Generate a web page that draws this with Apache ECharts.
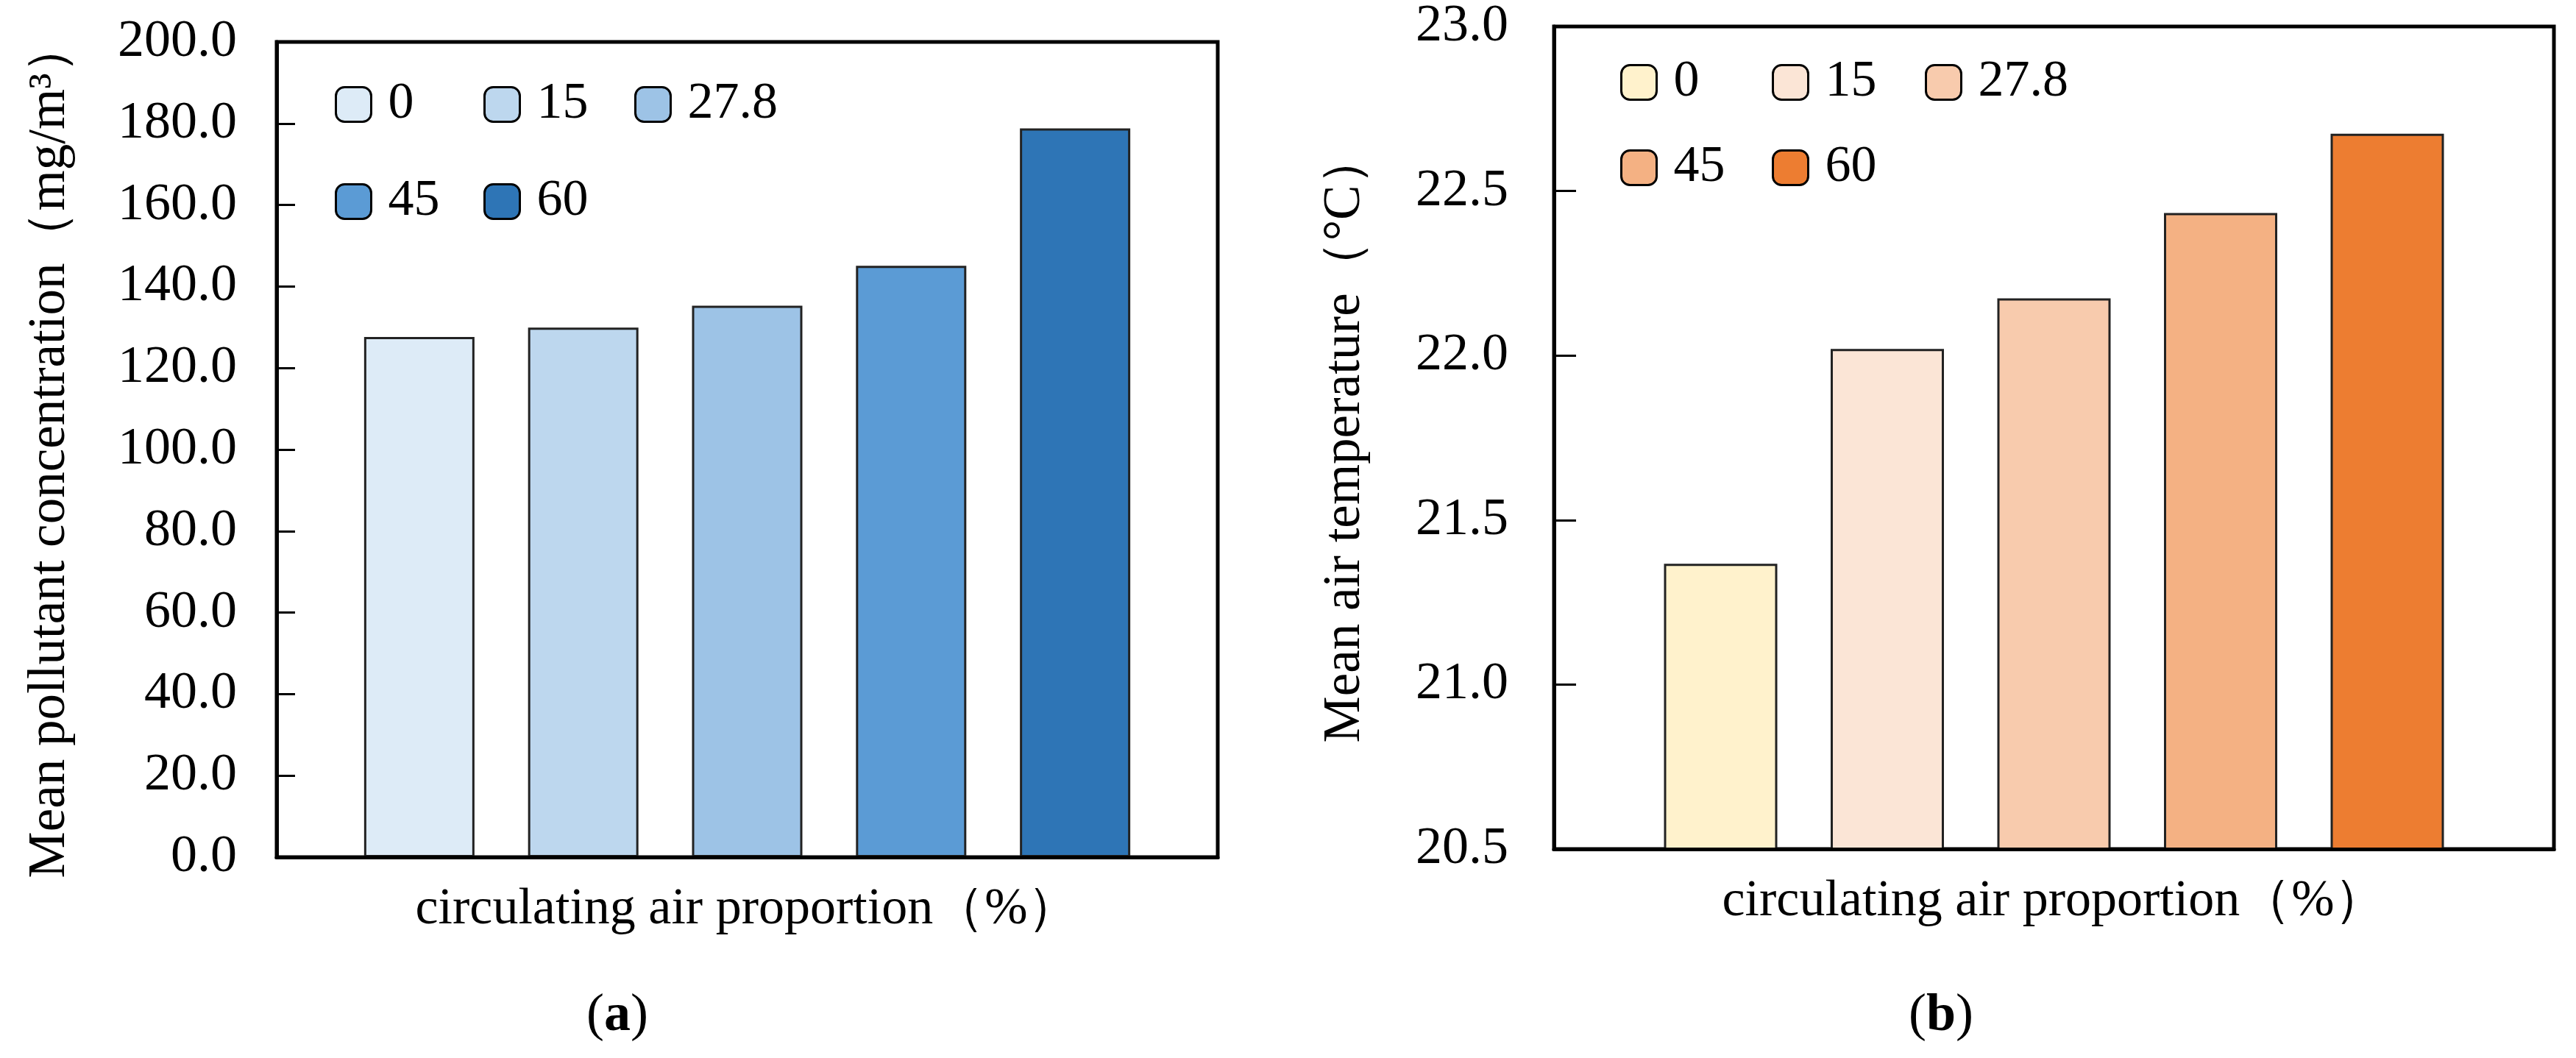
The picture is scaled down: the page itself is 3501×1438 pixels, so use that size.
<!DOCTYPE html>
<html><head><meta charset="utf-8">
<script src="https://cdn.jsdelivr.net/npm/echarts@6/dist/echarts.min.js"></script>
<style>html,body{margin:0;padding:0;background:#fff}#c{width:3501px;height:1438px}</style>
</head><body><div id="c"></div>
<script>
// ---- data ----
const categories = ['0', '15', '27.8', '45', '60'];
const pollutantValues = [127.6, 129.9, 135.3, 145.1, 178.8];
const temperatureValues = [21.367, 22.020, 22.174, 22.433, 22.674];
const blueColors = ['#DDEBF7', '#BDD7EE', '#9DC3E6', '#5B9BD5', '#2E75B6'];
const orangeColors = ['#FFF2CC', '#FBE5D6', '#F8CBAD', '#F4B183', '#ED7D31'];
const pollutantAxis = { min: 0, max: 200, interval: 20 };
const temperatureAxis = { min: 20.5, max: 23, interval: 0.5 };
const xTitle = 'circulating air proportion\uFF08%\uFF09';
const yTitleA = 'Mean pollutant concentration\uFF08mg/m\u00B3\uFF09';
const yTitleB = 'Mean air temperature\uFF08\u00B0C\uFF09';

// ---- styling / layout ----
const FONT = 'Liberation Serif';
const chart = echarts.init(document.getElementById('c'), null, { renderer: 'canvas' });

function yAxisCfg(gridIndex, ax, name, gap, margin, tickLen) {
  return {
    type: 'value', gridIndex, min: ax.min, max: ax.max, interval: ax.interval,
    name, nameLocation: 'middle', nameGap: gap,
    nameTextStyle: { fontFamily: FONT, fontSize: 71, color: '#000' },
    axisLine: { show: true, lineStyle: { color: '#000', width: 5 } },
    axisTick: { show: true, inside: true, length: tickLen, lineStyle: { color: '#000', width: 3 } },
    axisLabel: { fontFamily: FONT, fontSize: 72, color: '#000', margin,
      formatter: v => Number(v).toFixed(1) },
    splitLine: { show: false }
  };
}
function xAxisCfg(gridIndex, min, max) {
  return {
    type: 'value', gridIndex, min, max, z: 5,
    name: xTitle, nameLocation: 'middle', nameGap: 37,
    nameTextStyle: { fontFamily: FONT, fontSize: 70, color: '#000' },
    axisLine: { show: true, onZero: false, lineStyle: { color: '#000', width: 5 } },
    axisTick: { show: false }, axisLabel: { show: false }, splitLine: { show: false }
  };
}

const series = [];
categories.forEach((c, i) => {
  series.push({
    type: 'bar', name: c, xAxisIndex: 0, yAxisIndex: 0,
    data: [[i + 1, pollutantValues[i]]], barWidth: 150, barGap: '-100%',
    itemStyle: { color: blueColors[i], borderColor: '#222', borderWidth: 3 }
  });
});
categories.forEach((c, i) => {
  series.push({
    type: 'bar', name: c, xAxisIndex: 1, yAxisIndex: 1,
    data: [[i + 1, temperatureValues[i]]], barWidth: 154, barGap: '-100%',
    itemStyle: { color: orangeColors[i], borderColor: '#222', borderWidth: 3 }
  });
});

const legendPosA = [[455, 107], [657, 107], [862, 107], [455, 239], [657, 239]];
const legendPosB = [[2202, 77], [2408, 77], [2616, 77], [2202, 193], [2408, 193]];
const legends = [];
categories.forEach((c, i) => {
  [[legendPosA, blueColors], [legendPosB, orangeColors]].forEach(([pos, cols]) => {
    legends.push({
      left: pos[i][0], top: pos[i][1], padding: 0, itemWidth: 48, itemHeight: 47,
      selectedMode: false,
      data: [{ name: c, itemStyle: { color: cols[i], borderColor: '#000', borderWidth: 3 } }],
      textStyle: { fontFamily: FONT, fontSize: 70, color: '#000', padding: [0, 0, 0, 18] }
    });
  });
});

chart.setOption({
  backgroundColor: '#fff',
  animation: false,
  title: [
    { text: '({b|a})', left: 792, top: 1340,
      textStyle: { fontFamily: FONT, fontSize: 72, fontWeight: 'normal', color: '#000',
        rich: { b: { fontFamily: FONT, fontSize: 72, fontWeight: 'bold', color: '#000' } } } },
    { text: '({b|b})', left: 2589, top: 1340,
      textStyle: { fontFamily: FONT, fontSize: 72, fontWeight: 'normal', color: '#000',
        rich: { b: { fontFamily: FONT, fontSize: 72, fontWeight: 'bold', color: '#000' } } } }
  ],
  legend: legends,
  grid: [
    { left: 376, top: 57, width: 1279, height: 1108, show: true, borderColor: '#000', borderWidth: 5, backgroundColor: 'transparent' },
    { left: 2112, top: 34, width: 1359, height: 1120, show: true, borderColor: '#000', borderWidth: 5, backgroundColor: 'transparent' }
  ],
  xAxis: [xAxisCfg(0, 0.13, 5.87), xAxisCfg(1, 0, 6)],
  yAxis: [
    yAxisCfg(0, pollutantAxis, yTitleA, 272, 54, 25),
    yAxisCfg(1, temperatureAxis, yTitleB, 248, 62, 30)
  ],
  series
});
</script></body></html>
